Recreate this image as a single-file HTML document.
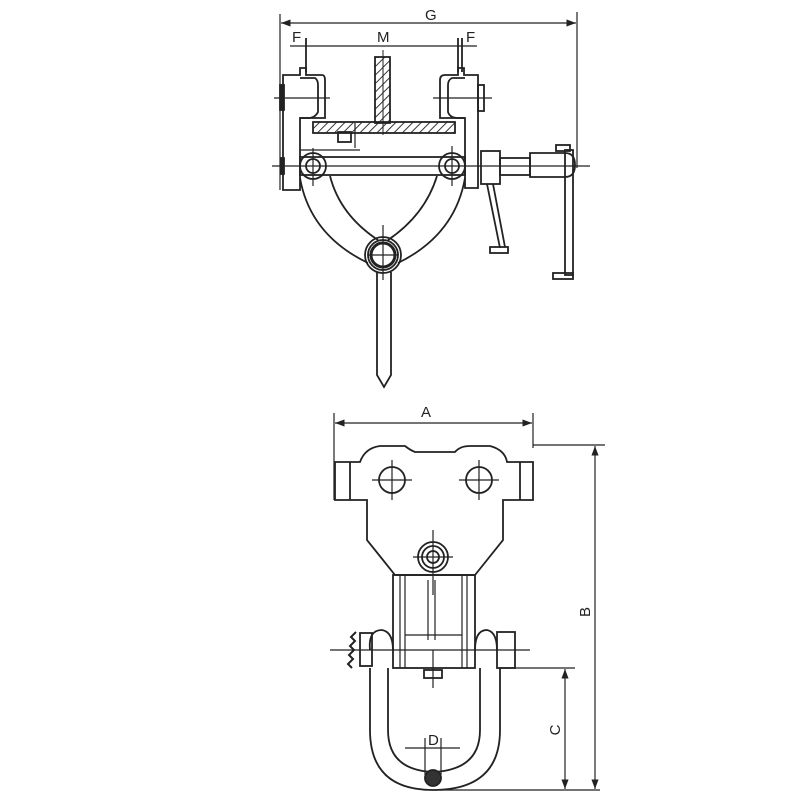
<!DOCTYPE html>
<html><head><style>html,body{margin:0;background:#fff}svg{display:block}</style></head><body>
<svg width="800" height="800" viewBox="0 0 800 800" xmlns="http://www.w3.org/2000/svg" font-family="Liberation Sans, sans-serif">
<defs>
<pattern id="h" width="6" height="6" patternUnits="userSpaceOnUse" patternTransform="rotate(45)"><line x1="0" y1="0" x2="0" y2="6" stroke="#222" stroke-width="1.8"/></pattern>
<marker id="a" markerWidth="8" markerHeight="6" refX="8" refY="3" orient="auto-start-reverse"><path d="M0,0 L8,3 L0,6z" fill="#222"/></marker>
</defs>
<g stroke="#222" stroke-width="1.8" fill="none">
<line x1="280" y1="14" x2="280" y2="190" stroke-width="1.2"/>
<line x1="577" y1="12" x2="577" y2="168" stroke-width="1.2"/>
<line x1="281" y1="23" x2="576" y2="23" marker-start="url(#a)" marker-end="url(#a)" stroke-width="1.2"/>
<line x1="290" y1="46" x2="477" y2="46" stroke-width="1.2"/>
<line x1="306" y1="38" x2="306" y2="72"/>
<line x1="458" y1="38" x2="458" y2="72"/>
<line x1="462" y1="38" x2="462" y2="72"/>
<rect x="375" y="57" width="15" height="66" fill="url(#h)"/>
<rect x="313" y="122" width="142" height="11" fill="url(#h)"/>
<line x1="383" y1="50" x2="383" y2="135" stroke-width="1"/>
<rect x="338" y="132" width="13" height="10"/>
<line x1="355" y1="123" x2="355" y2="148" stroke-width="1.2"/>
<line x1="300" y1="150" x2="360" y2="150" stroke-width="1.2"/>
<path d="M287,75 H300 V68 H306 V75 H322 Q325,75 325,80 V118 H300 V190 H283 V75 Z"/>
<path d="M300,78 H315 Q318,80 318,85 V112 Q315,118 308,118 H300"/>
<line x1="274" y1="98" x2="330" y2="98" stroke-width="1.2"/>
<rect x="280" y="85" width="4" height="25" fill="#222"/>
<path d="M440,80 Q440,75 445,75 H458 V68 H464 V75 H478 V188 H465 V118 H440 Z"/>
<path d="M465,78 H452 Q448,80 448,85 V112 Q450,118 458,118 H465"/>
<rect x="478" y="85" width="6" height="26"/>
<line x1="433" y1="98" x2="492" y2="98" stroke-width="1.2"/>
<rect x="300" y="157" width="165" height="18"/>
<line x1="272" y1="166" x2="590" y2="166" stroke-width="1.2"/>
<circle cx="313" cy="166" r="13"/><circle cx="313" cy="166" r="7"/>
<circle cx="452" cy="166" r="13"/><circle cx="452" cy="166" r="7"/>
<line x1="313" y1="148" x2="313" y2="186" stroke-width="1.2"/>
<line x1="452" y1="146" x2="452" y2="186" stroke-width="1.2"/>
<rect x="281" y="158" width="3" height="16" fill="#222"/>
<rect x="481" y="151" width="19" height="33"/>
<rect x="500" y="158" width="30" height="17"/>
<path d="M530,153 H565 Q575,153 575,165 Q575,177 565,177 H530 Z"/>
<path d="M487,184 L500,248 M493,184 L505,247"/>
<rect x="490" y="247" width="18" height="6"/>
<rect x="565" y="150" width="8" height="125"/>
<rect x="556" y="145" width="14" height="6"/>
<rect x="553" y="273" width="20" height="6"/>
<path d="M300,178 Q310,235 368,263"/>
<path d="M465,178 Q455,235 398,263"/>
<path d="M330,176 Q340,215 378,240"/>
<path d="M437,176 Q425,215 388,240"/>
<circle cx="383" cy="255" r="18"/><circle cx="383" cy="255" r="15"/>
<circle cx="383" cy="255" r="12" stroke-width="3"/>
<line x1="383" y1="225" x2="383" y2="280" stroke-width="1.2"/>
<line x1="368" y1="255" x2="398" y2="255" stroke-width="1.2"/>
<path d="M377,272 V375 L384,387 L391,375 V272"/>
<line x1="334" y1="413" x2="334" y2="500" stroke-width="1.2"/>
<line x1="533" y1="413" x2="533" y2="448" stroke-width="1.2"/>
<line x1="335" y1="423" x2="532" y2="423" marker-start="url(#a)" marker-end="url(#a)" stroke-width="1.2"/>
<line x1="533" y1="445" x2="605" y2="445" stroke-width="1.2"/>
<line x1="595" y1="446" x2="595" y2="789" marker-start="url(#a)" marker-end="url(#a)" stroke-width="1.2"/>
<line x1="500" y1="668" x2="575" y2="668" stroke-width="1.2"/>
<line x1="565" y1="669" x2="565" y2="789" marker-start="url(#a)" marker-end="url(#a)" stroke-width="1.2"/>
<line x1="440" y1="790" x2="600" y2="790" stroke-width="1.2"/>
<path d="M335,462 H360 Q365,448 380,446 H405 Q410,450 415,452 H455 Q460,446 470,446 H490 Q505,450 507,462 H533 V500 H503 V540 L475,575 H395 L367,540 V500 H335 Z"/>
<line x1="350" y1="462" x2="350" y2="500"/><line x1="520" y1="462" x2="520" y2="500"/>
<circle cx="392" cy="480" r="13"/><circle cx="479" cy="480" r="13"/>
<path d="M372,480 H412 M392,460 V500 M459,480 H499 M479,460 V500" stroke-width="1.2"/>
<circle cx="433" cy="557" r="15"/><circle cx="433" cy="557" r="11"/><circle cx="433" cy="557" r="6"/>
<path d="M413,557 H453 M433,530 V595" stroke-width="1.2"/>
<rect x="393" y="575" width="82" height="93"/>
<path d="M400,575 V668 M405,575 V668 M462,575 V668 M467,575 V668 M428,580 V640 M435,580 V640 M405,635 H462" stroke-width="1.2"/>
<path d="M370,650 Q368,630 382,630 Q393,632 393,650 M475,650 Q475,630 487,630 Q497,632 497,650"/>
<rect x="360" y="633" width="12" height="33"/>
<path d="M356,632 l-5,5 l4,4 l-5,5 l4,4 l-5,5 l4,4 l-5,5 l4,4" stroke-width="2"/>
<rect x="497" y="632" width="18" height="36"/>
<line x1="330" y1="650" x2="530" y2="650" stroke-width="1.2"/>
<rect x="424" y="670" width="18" height="8"/>
<line x1="433" y1="650" x2="433" y2="688" stroke-width="1.2"/>
<path d="M370,668 V730 Q370,790 433,790 Q500,790 500,730 V668"/>
<path d="M388,668 V730 Q388,770 433,772 Q480,770 480,730 V668"/>
<circle cx="433" cy="778" r="8" fill="#333"/>
<path d="M405,748 H460 M425,738 V775 M441,738 V775" stroke-width="1.2"/>
</g>
<g font-size="15" fill="#222">
<text x="425" y="20">G</text>
<text x="292" y="42">F</text>
<text x="377" y="42">M</text>
<text x="466" y="42">F</text>
<text x="421" y="417">A</text>
<text x="428" y="745">D</text>
<text transform="translate(590,612) rotate(-90)" text-anchor="middle">B</text>
<text transform="translate(560,730) rotate(-90)" text-anchor="middle">C</text>
</g>
</svg>
</body></html>
